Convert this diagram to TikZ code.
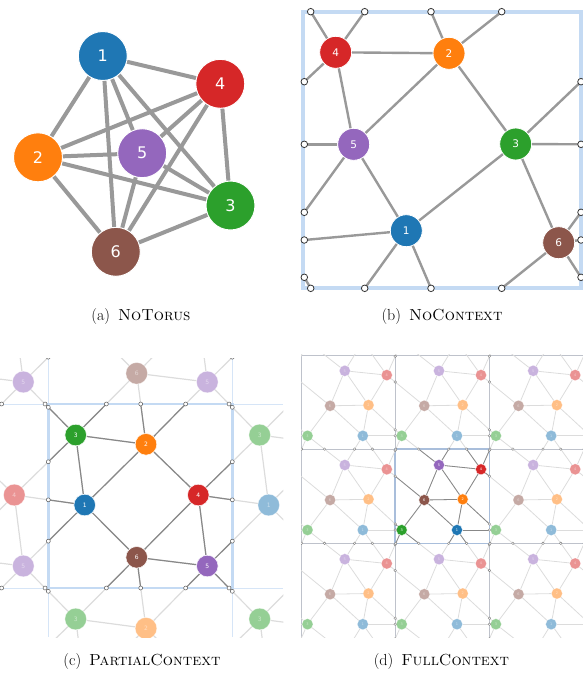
\documentclass[tikz,border=0pt]{standalone}
\usepackage{fontspec}
\newfontfamily\numfont{DejaVu Sans}
\definecolor{tblue}{HTML}{1F77B4}
\definecolor{torange}{HTML}{FF7F0E}
\definecolor{tgreen}{HTML}{2CA02C}
\definecolor{tred}{HTML}{D62728}
\definecolor{tpurple}{HTML}{9467BD}
\definecolor{tbrown}{HTML}{8C564B}
\definecolor{edgegray}{HTML}{999999}
\definecolor{darkedge}{HTML}{888888}
\definecolor{lightedge}{HTML}{DCDCDC}
\definecolor{boxblue}{HTML}{C4DAF3}
\definecolor{thinblue}{HTML}{D6E5F7}
\definecolor{gridgray}{HTML}{BEC2CB}
\definecolor{tileblue}{HTML}{A9BEDB}
\tikzset{
  vertex/.style={circle, inner sep=0pt, draw=white, text=white},
  ghost/.style={opacity=0.5},
  port/.style={draw=#1, fill=white},
  captext/.style={font=\fontsize{16}{19}\selectfont},
}
\begin{document}
\begin{tikzpicture}[x=1pt,y=-1pt]
\useasboundingbox (0,0) rectangle (583,673);

% (a) NoTorus
\foreach \i/\vx/\vy/\col in {1/102.8/56/tblue,2/38/157.3/torange,3/230.5/205.5/tgreen,4/220.3/83.8/tred,5/142.2/153.2/tpurple,6/115.8/251.8/tbrown}
  \node[vertex, fill=\col, minimum size=49pt, line width=1pt, font=\numfont\fontsize{16}{16}\selectfont] (a\i) at (\vx,\vy) {\i};
\foreach \a/\b in {1/2,1/3,1/4,1/5,1/6,2/3,2/4,2/5,2/6,3/4,3/5,3/6,4/5,4/6,5/6}
  \draw[edgegray, line width=4pt] (a\a) -- (a\b);
\node[captext] (capa) at (141,317) {(a)\enspace\textsc{NoTorus}};

% (b) NoContext
\draw[boxblue, line width=4pt] (303.3,11.7) rectangle (581,287.6);
\foreach \i/\vx/\vy/\col in {1/406.3/230.7/tblue,2/449/53.3/torange,3/515.7/144/tgreen,4/335.7/52.3/tred,5/353.7/144.3/tpurple,6/558.7/242.7/tbrown}
  \node[vertex, fill=\col, minimum size=32pt, line width=0.8pt, font=\numfont\fontsize{10.5}{10.5}\selectfont] (b\i) at (\vx,\vy) {\i};
\foreach \n/\vx in {1/310.7,2/364.7,3/431,4/501.7} {
  \coordinate (bt\n) at (\vx,11.7);
  \coordinate (bb\n) at (\vx,288.3);
}
\foreach \n/\vy in {1/81.7,2/144.3,3/212.3,4/240,5/277.3} {
  \coordinate (bl\n) at (304.3,\vy);
  \coordinate (br\n) at (581,\vy);
}
\foreach \a/\b in {b4/bt1,b4/bt2,b4/bl1,b4/b2,b4/b5,b2/bt3,b2/bt4,b2/b5,b2/b3,b5/bl2,b5/bl3,b5/b1,b3/br1,b3/br2,b3/b1,b3/b6,b1/bl4,b1/bb2,b1/bb3,b6/bb4,b6/br3,b6/br4,b6/br5,bl5/bb1}
  \draw[edgegray, line width=2.4pt] (\a) -- (\b);
\foreach \p in {bt1,bt2,bt3,bt4,bb1,bb2,bb3,bb4,bl1,bl2,bl3,bl4,bl5,br1,br2,br3,br4,br5}
  \draw[port=black!80, line width=0.8pt] (\p) circle (3.3pt);
\node[captext] (capb) at (442,317) {(b)\enspace\textsc{NoContext}};

% (c) PartialContext
\begin{scope}[shift={(48.3,404)}]
\def\W{184}
\def\px{{36.4,97.7,27.4,150,159,88.4}}
\def\py{{101,40.3,31,91,162,153.3}}
\def\clist{1/tblue,2/torange,3/tgreen,4/tred,5/tpurple,6/tbrown}
\def\elist{1/2/0/0,1/3/0/0,1/4/-1/0,1/5/-1/0,1/6/0/0,2/3/0/0,2/4/0/0,2/5/0/-1,2/6/0/-1,3/4/-1/0,3/5/-1/-1,3/6/0/-1,4/5/0/0,4/6/0/0,5/6/0/0}
\begin{scope}
\clip (-48.3,-46) rectangle (235,233);
\draw[thinblue, line width=0.7pt] (-48.3,0) -- (235,0) (-48.3,\W) -- (235,\W) (0,-46) -- (0,233) (\W,-46) -- (\W,233);
\draw[boxblue, line width=2.8pt] (0,0) rectangle (\W,\W);
% copies around the box
\foreach \tx in {0,...,4}
  \foreach \ty in {0,...,4}
    \foreach \i/\col in \clist {
      \pgfmathsetmacro\vx{\px[\i-1]+(\tx-2)*\W}
      \pgfmathsetmacro\vy{\py[\i-1]+(\ty-2)*\W}
      \pgfmathtruncatemacro\vis{(\vx>-60)*(\vx<246)*(\vy>-57)*(\vy<244)}
      \node[vertex, ghost, fill=\col, minimum size=21.6pt, line width=0.5pt, font=\numfont\fontsize{6}{6}\selectfont] (c\i x\tx y\ty) at (\vx,\vy) {\ifnum\vis=1 \i\fi};
    }
\foreach \a/\b/\ox/\oy in \elist
  \foreach \tx in {1,2,3}
    \foreach \ty in {1,2,3} {
      \pgfmathtruncatemacro\ux{\tx+\ox}
      \pgfmathtruncatemacro\uy{\ty+\oy}
      \draw[lightedge, line width=1.2pt] (c\a x\tx y\ty) -- (c\b x\ux y\uy);
    }
\end{scope}
\begin{scope}
\clip (0,0) rectangle (\W,\W);
\foreach \a/\b/\ox/\oy in \elist
  \foreach \tx in {1,2,3}
    \foreach \ty in {1,2,3} {
      \pgfmathtruncatemacro\ux{\tx+\ox}
      \pgfmathtruncatemacro\uy{\ty+\oy}
      \draw[darkedge, line width=1.2pt] (c\a x\tx y\ty) -- (c\b x\ux y\uy);
    }
\end{scope}
\foreach \i/\col in \clist {
  \pgfmathsetmacro\vx{\px[\i-1]}
  \pgfmathsetmacro\vy{\py[\i-1]}
  \node[vertex, fill=\col, minimum size=21.6pt, line width=0.5pt, font=\numfont\fontsize{6}{6}\selectfont] (c\i) at (\vx,\vy) {\i};
}
% crossings
\begin{scope}
\clip (-48.3,-46) rectangle (235,233);
\foreach \a/\b/\ox/\oy in \elist {
  \pgfmathsetmacro\ax{\px[\a-1]}
  \pgfmathsetmacro\ay{\py[\a-1]}
  \pgfmathsetmacro\bx{\px[\b-1]+(\ox)*\W}
  \pgfmathsetmacro\by{\py[\b-1]+(\oy)*\W}
  \ifnum\ox=0 \else
    \pgfmathsetmacro\yc{\ay+(\W*(1+\ox)/2-\ax)/(\bx-\ax)*(\by-\ay)}
    \foreach \m in {-1,0,1}
      \draw[port=black!65, line width=0.5pt] (0,{\yc+(\m)*\W}) circle (2pt) (\W,{\yc+(\m)*\W}) circle (2pt);
  \fi
  \ifnum\oy=0 \else
    \pgfmathsetmacro\xc{\ax+(\W*(1+\oy)/2-\ay)/(\by-\ay)*(\bx-\ax)}
    \foreach \m in {-1,0,1}
      \draw[port=black!65, line width=0.5pt] ({\xc+(\m)*\W},0) circle (2pt) ({\xc+(\m)*\W},\W) circle (2pt);
  \fi
}
\end{scope}
\end{scope}
\node[captext] (capc) at (142,662) {(c)\enspace\textsc{PartialContext}};

% (d) FullContext
\begin{scope}[shift={(395.2,449.1)}]
\def\W{94.2}
\def\px{{61.8,67.5,6.5,85.8,43.8,29.1}}
\def\py{{80.9,50.2,80.9,20.2,15.9,50.9}}
\def\clist{1/tblue,2/torange,3/tgreen,4/tred,5/tpurple,6/tbrown}
\def\elist{5/4/0/0,5/6/0/0,5/2/0/0,5/1/0/-1,5/3/0/-1,4/1/0/-1,4/3/1/-1,4/6/1/0,4/2/0/0,6/2/0/0,6/3/0/0,6/1/0/0,2/1/0/0,2/3/1/0,1/3/1/0}
\begin{scope}
\clip (-\W,-\W) rectangle (2*\W,2*\W);
\foreach \k in {-1,0,1}
  \draw[gridgray, line width=0.8pt] (\k*\W,-\W) -- (\k*\W,2*\W) (-\W,\k*\W) -- (2*\W,\k*\W);
\draw[tileblue, line width=1.6pt] (0,0) rectangle (\W,\W);
% copies around the tile
\foreach \tx in {0,...,6}
  \foreach \ty in {0,...,6}
    \foreach \i/\col in \clist {
      \pgfmathsetmacro\vx{\px[\i-1]+(\tx-3)*\W}
      \pgfmathsetmacro\vy{\py[\i-1]+(\ty-3)*\W}
      \pgfmathtruncatemacro\vis{(\vx>-\W-6)*(\vx<2*\W+6)*(\vy>-\W-6)*(\vy<2*\W+6)}
      \node[vertex, ghost, fill=\col, minimum size=11pt, line width=0.3pt, font=\numfont\fontsize{3.5}{3.5}\selectfont] (d\i x\tx y\ty) at (\vx,\vy) {\ifnum\vis=1 \i\fi};
    }
\foreach \a/\b/\ox/\oy in \elist
  \foreach \tx in {1,...,5}
    \foreach \ty in {1,...,5} {
      \pgfmathtruncatemacro\ux{\tx+\ox}
      \pgfmathtruncatemacro\uy{\ty+\oy}
      \draw[lightedge, line width=0.8pt] (d\a x\tx y\ty) -- (d\b x\ux y\uy);
    }
\end{scope}
\begin{scope}
\clip (0,0) rectangle (\W,\W);
\foreach \a/\b/\ox/\oy in \elist
  \foreach \tx in {2,3,4}
    \foreach \ty in {2,3,4} {
      \pgfmathtruncatemacro\ux{\tx+\ox}
      \pgfmathtruncatemacro\uy{\ty+\oy}
      \draw[darkedge, line width=0.8pt] (d\a x\tx y\ty) -- (d\b x\ux y\uy);
    }
\end{scope}
\foreach \i/\col in \clist {
  \pgfmathsetmacro\vx{\px[\i-1]}
  \pgfmathsetmacro\vy{\py[\i-1]}
  \node[vertex, fill=\col, minimum size=11pt, line width=0.3pt, font=\numfont\fontsize{3.5}{3.5}\selectfont] (d\i) at (\vx,\vy) {\i};
}
% crossings
\begin{scope}
\clip (-\W,-\W) rectangle (2*\W,2*\W);
\foreach \a/\b/\ox/\oy in \elist {
  \pgfmathsetmacro\ax{\px[\a-1]}
  \pgfmathsetmacro\ay{\py[\a-1]}
  \pgfmathsetmacro\bx{\px[\b-1]+(\ox)*\W}
  \pgfmathsetmacro\by{\py[\b-1]+(\oy)*\W}
  \ifnum\ox=0 \else
    \pgfmathsetmacro\yc{\ay+(\W*(1+\ox)/2-\ax)/(\bx-\ax)*(\by-\ay)}
    \foreach \m in {-2,...,2}
      \draw[port=black!50, line width=0.4pt] (0,{\yc+(\m)*\W}) circle (1.3pt) (\W,{\yc+(\m)*\W}) circle (1.3pt);
  \fi
  \ifnum\oy=0 \else
    \pgfmathsetmacro\xc{\ax+(\W*(1+\oy)/2-\ay)/(\by-\ay)*(\bx-\ax)}
    \foreach \m in {-2,...,2}
      \draw[port=black!50, line width=0.4pt] ({\xc+(\m)*\W},0) circle (1.3pt) ({\xc+(\m)*\W},\W) circle (1.3pt);
  \fi
}
\end{scope}
\end{scope}
\node[captext] (capd) at (441.5,662) {(d)\enspace\textsc{FullContext}};
\end{tikzpicture}
\end{document}
